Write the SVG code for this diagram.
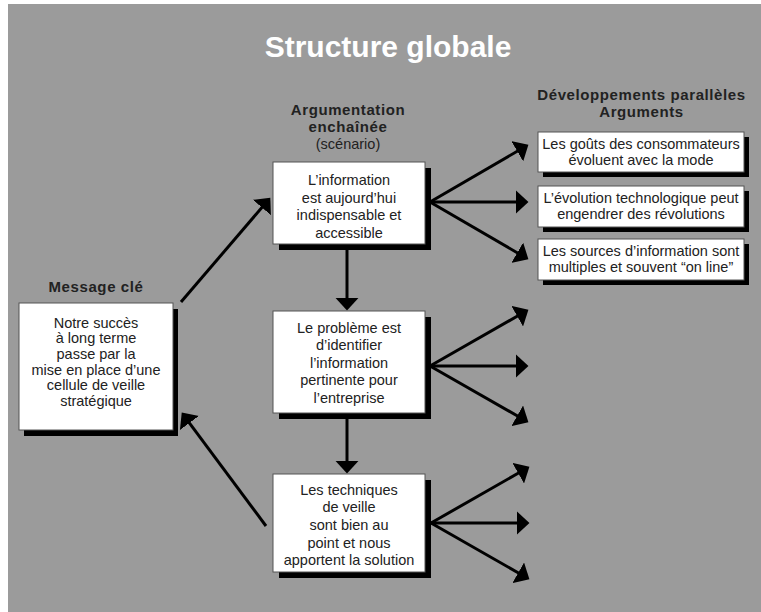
<svg xmlns="http://www.w3.org/2000/svg" width="761" height="612" viewBox="0 0 761 612">
  <style>
    .title { font-family: "Liberation Sans", Arial, sans-serif; font-weight: bold; font-size: 30px; fill: #ffffff; text-anchor: middle; }
    .head { font-family: "Liberation Sans", Arial, sans-serif; font-weight: bold; font-size: 15px; letter-spacing: 0.6px; fill: #222222; text-anchor: middle; }
    .sub { font-family: "Liberation Sans", Arial, sans-serif; font-size: 14.5px; fill: #222222; text-anchor: middle; }
    .body { font-family: "Liberation Sans", Arial, sans-serif; font-size: 14.5px; fill: #222222; text-anchor: middle; }
    .box { fill: #ffffff; stroke: #555555; stroke-width: 1; }
    .shadow { fill: #000000; }
    .link { stroke: #000000; stroke-width: 3; fill: none; marker-end: url(#head); }
  </style>
  <defs>
    <marker id="head" markerUnits="userSpaceOnUse" markerWidth="14" markerHeight="24" refX="6" refY="11" orient="auto" viewBox="0 0 13 22">
      <path d="M0,0 L12,11 L0,22 Z" fill="#000000"/>
    </marker>
  </defs>

  <!-- panel -->
  <rect x="8" y="4" width="753" height="608" fill="#9b9b9b"/>

  <text class="title" x="388" y="57">Structure globale</text>

  <!-- column headings -->
  <g id="heading-argumentation">
    <text class="head" x="348" y="115">Argumentation</text>
    <text class="head" x="348" y="132">enchaînée</text>
    <text class="sub" x="348" y="149">(scénario)</text>
  </g>
  <g id="heading-arguments">
    <text class="head" x="641.5" y="100">Développements parallèles</text>
    <text class="head" x="641.5" y="117">Arguments</text>
  </g>
  <g id="heading-message">
    <text class="head" x="96" y="292">Message clé</text>
  </g>

  <!-- connectors -->
  <g id="connectors">
    <!-- key message to first argument, last argument back to key message -->
    <line class="link" x1="181" y1="302" x2="266.1" y2="202.6"/>
    <line class="link" x1="266" y1="526" x2="185.6" y2="417.8"/>
    <!-- chain -->
    <line class="link" x1="347" y1="250" x2="347" y2="304"/>
    <line class="link" x1="347" y1="419" x2="347" y2="467"/>
    <!-- fan from argument 1 -->
    <line class="link" x1="430" y1="202" x2="522.8" y2="148"/>
    <line class="link" x1="430" y1="202" x2="522" y2="202"/>
    <line class="link" x1="430" y1="202" x2="522.8" y2="256"/>
    <!-- fan from argument 2 -->
    <line class="link" x1="430" y1="366" x2="522.8" y2="313"/>
    <line class="link" x1="430" y1="366" x2="522" y2="366"/>
    <line class="link" x1="430" y1="366" x2="522.8" y2="419"/>
    <!-- fan from argument 3 -->
    <line class="link" x1="431" y1="523" x2="523.8" y2="470"/>
    <line class="link" x1="431" y1="523" x2="523" y2="523"/>
    <line class="link" x1="431" y1="523" x2="523.8" y2="576"/>
  </g>

  <!-- key message -->
  <g id="message">
    <rect class="shadow" x="24" y="309" width="154" height="127"/>
    <rect class="box" x="19" y="303" width="154" height="127"/>
    <text class="body" x="96" y="327.5">Notre succès</text>
    <text class="body" x="96" y="343.2">à long terme</text>
    <text class="body" x="96" y="358.9">passe par la</text>
    <text class="body" x="96" y="374.6">mise en place d’une</text>
    <text class="body" x="96" y="390.3">cellule de veille</text>
    <text class="body" x="96" y="406">stratégique</text>
  </g>

  <!-- chained arguments -->
  <g id="arg1">
    <rect class="shadow" x="279" y="168" width="152" height="82"/>
    <rect class="box" x="273" y="162" width="152" height="82"/>
    <text class="body" x="349" y="185">L’information</text>
    <text class="body" x="349" y="202.7">est aujourd’hui</text>
    <text class="body" x="349" y="220.3">indispensable et</text>
    <text class="body" x="349" y="238">accessible</text>
  </g>
  <g id="arg2">
    <rect class="shadow" x="279" y="317" width="152" height="102"/>
    <rect class="box" x="273" y="311" width="152" height="102"/>
    <text class="body" x="349" y="333">Le problème est</text>
    <text class="body" x="349" y="350.4">d’identifier</text>
    <text class="body" x="349" y="367.8">l’information</text>
    <text class="body" x="349" y="385.2">pertinente pour</text>
    <text class="body" x="349" y="402.6">l’entreprise</text>
  </g>
  <g id="arg3">
    <rect class="shadow" x="279" y="480" width="152" height="98"/>
    <rect class="box" x="273" y="474" width="152" height="98"/>
    <text class="body" x="349" y="494.5">Les techniques</text>
    <text class="body" x="349" y="512.2">de veille</text>
    <text class="body" x="349" y="529.9">sont bien au</text>
    <text class="body" x="349" y="547.6">point et nous</text>
    <text class="body" x="349" y="565.3">apportent la solution</text>
  </g>

  <!-- parallel developments -->
  <g id="dev1">
    <rect class="shadow" x="543" y="137" width="206" height="40"/>
    <rect class="box" x="538" y="132" width="206" height="40"/>
    <text class="body" x="641" y="148.5">Les goûts des consommateurs</text>
    <text class="body" x="641" y="164.5">évoluent avec la mode</text>
  </g>
  <g id="dev2">
    <rect class="shadow" x="543" y="191" width="206" height="41"/>
    <rect class="box" x="538" y="186" width="206" height="41"/>
    <text class="body" x="641" y="202.5">L’évolution technologique peut</text>
    <text class="body" x="641" y="218.5">engendrer des révolutions</text>
  </g>
  <g id="dev3">
    <rect class="shadow" x="543" y="244" width="206" height="41"/>
    <rect class="box" x="538" y="239" width="206" height="41"/>
    <text class="body" x="641" y="255.5">Les sources d’information sont</text>
    <text class="body" x="641" y="271.5">multiples et souvent “on line”</text>
  </g>
</svg>
